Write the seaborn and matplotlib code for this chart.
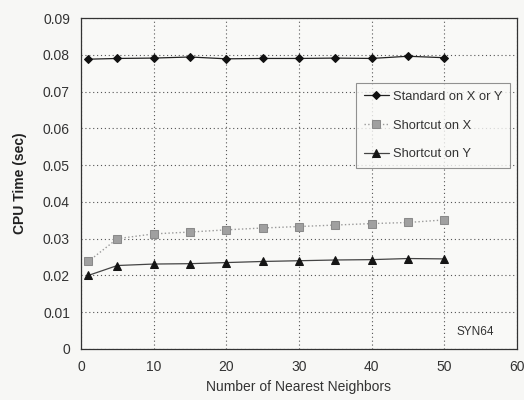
import matplotlib
matplotlib.use("Agg")
import matplotlib.pyplot as plt
import seaborn as sns
import pandas as pd

neighbors = [1, 5, 10, 15, 20, 25, 30, 35, 40, 45, 50]
standard = [0.0788, 0.0790, 0.0791, 0.0794, 0.0789, 0.0790, 0.0790, 0.0791, 0.0790, 0.0796, 0.0792]
shortcut_x = [0.0238, 0.0300, 0.0313, 0.0318, 0.0324, 0.0329, 0.0333, 0.0337, 0.0341, 0.0344, 0.0351]
shortcut_y = [0.0200, 0.0227, 0.0231, 0.0232, 0.0235, 0.0238, 0.0240, 0.0242, 0.0243, 0.0246, 0.0245]
series_names = ["Standard on X or Y", "Shortcut on X", "Shortcut on Y"]

df = pd.DataFrame({
    "k": neighbors * 3,
    "t": standard + shortcut_x + shortcut_y,
    "s": [series_names[0]] * len(neighbors) + [series_names[1]] * len(neighbors) + [series_names[2]] * len(neighbors),
})

sns.set_style("white")
plt.rcParams["font.family"] = ["Liberation Sans", "DejaVu Sans"]

fig = plt.figure(figsize=(5.24, 4.0), dpi=100, facecolor="#f7f7f5")
ax = fig.add_axes([0.1546, 0.1275, 0.8320, 0.8275])
ax.set_facecolor("#f9f9f7")

styles = {
    series_names[0]: dict(color="#222222", marker="D", ms=4.3, ls="-", lw=0.9, mfc="#111111", mec="#111111"),
    series_names[1]: dict(color="#9a9a9a", marker="s", ms=6.0, ls=":", lw=1.0, mfc="#a0a0a0", mec="#8a8a8a"),
    series_names[2]: dict(color="#444444", marker="^", ms=5.8, ls="-", lw=0.9, mfc="#151515", mec="#151515"),
}
for name in series_names:
    st = styles[name]
    sub = df[df["s"] == name]
    sns.lineplot(data=sub, x="k", y="t", ax=ax, color=st["color"], marker=st["marker"],
                 markersize=st["ms"], linestyle=st["ls"], linewidth=st["lw"],
                 markerfacecolor=st["mfc"], markeredgecolor=st["mec"], label=name)

ax.set_xlim(0, 60)
ax.set_ylim(0, 0.09)
ax.set_xticks(range(0, 61, 10))
ax.set_yticks([i / 100 for i in range(0, 10)])
ax.set_yticklabels(["0"] + [f"{i/100:.2f}" for i in range(1, 10)])
ax.grid(True, linestyle=(0, (1, 2.5)), color="#555555", linewidth=0.8)
for sp in ax.spines.values():
    sp.set_color("#333333")
    sp.set_linewidth(0.9)
ax.tick_params(axis="both", labelsize=10, colors="#333333", length=0, pad=8)

ax.set_xlabel("Number of Nearest Neighbors", fontsize=10, color="#333333", labelpad=4)
ax.set_ylabel("CPU Time (sec)", fontsize=10, color="#222222", fontweight="bold", labelpad=11)

ax.text(54.3, 0.0046, "SYN64", fontsize=8.5, color="#333333", ha="center", va="center")

leg = ax.legend(loc="upper right", bbox_to_anchor=(0.984, 0.804), borderaxespad=0, fontsize=9.3,
                frameon=True, fancybox=False, labelspacing=1.3, handlelength=1.95,
                borderpad=0.6, handletextpad=0.3)
leg.get_frame().set_edgecolor("#777777")
leg.get_frame().set_facecolor("#f9f9f7")
leg.get_frame().set_linewidth(0.8)
for t in leg.get_texts():
    t.set_color("#333333")

fig.savefig("out.png", dpi=100, facecolor=fig.get_facecolor())
